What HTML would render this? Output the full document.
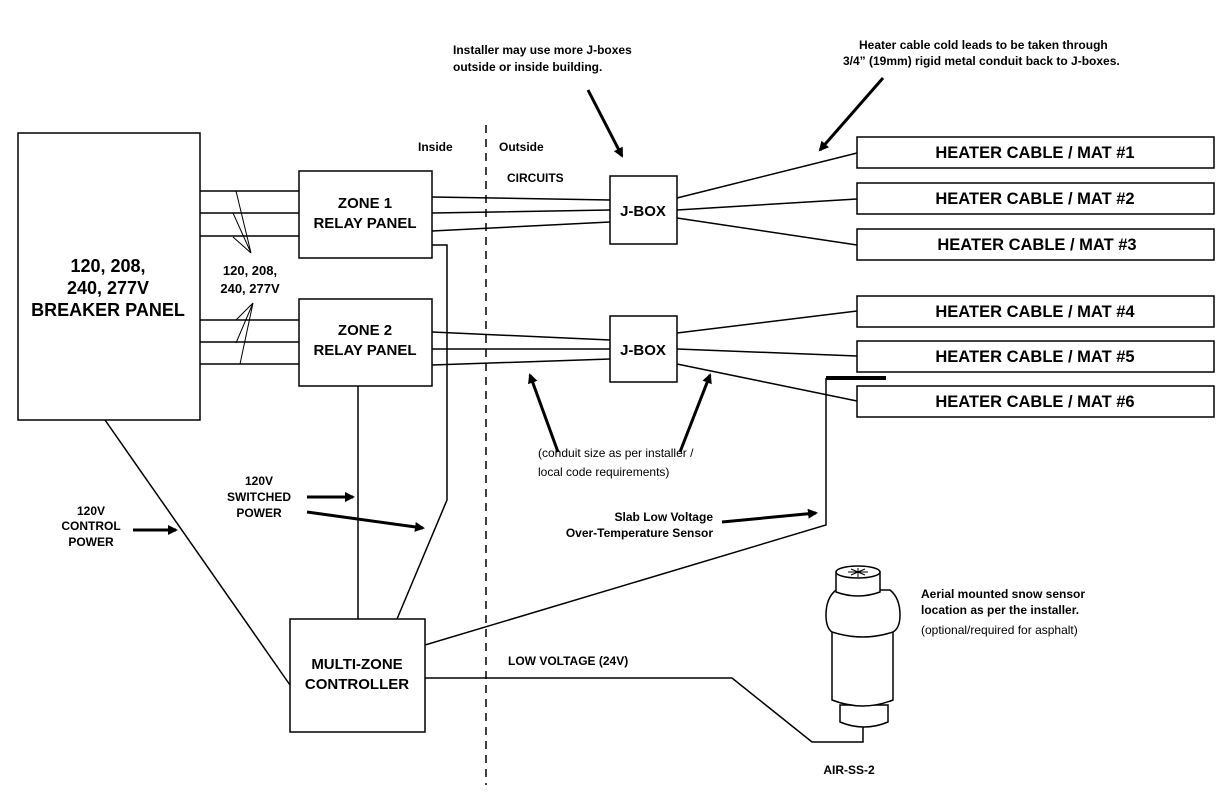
<!DOCTYPE html>
<html><head><meta charset="utf-8"><style>
body{margin:0;background:#fff}
svg text{font-family:"Liberation Sans",Arial,sans-serif;font-weight:bold;fill:#000}
svg text.n{font-weight:normal}
</style></head><body>
<svg width="1232" height="793" viewBox="0 0 1232 793" xmlns="http://www.w3.org/2000/svg">
<defs><marker id="ah" markerWidth="10" markerHeight="10" refX="8" refY="5" orient="auto" markerUnits="userSpaceOnUse"><path d="M0,0 L10,5 L0,10 z" fill="#000"/></marker></defs>
<g fill="none" stroke="#000" stroke-width="1.5">
<rect x="18" y="133" width="182" height="287"/>
<rect x="299" y="171" width="133" height="87"/>
<rect x="299" y="299" width="133" height="87"/>
<rect x="610" y="176" width="67" height="68"/>
<rect x="610" y="316" width="67" height="66"/>
<rect x="290" y="619" width="135" height="113"/>
<rect x="857" y="137" width="357" height="31"/>
<rect x="857" y="183" width="357" height="31"/>
<rect x="857" y="229" width="357" height="31"/>
<rect x="857" y="296" width="357" height="31"/>
<rect x="857" y="341" width="357" height="31"/>
<rect x="857" y="386" width="357" height="31"/>
<path d="M200,191H299M200,213H299M200,236H299M200,320H299M200,342H299M200,364H299"/>
<path d="M236,191L251,253M233,213L251,253M233,237L251,253M253,303L236,320M253,303L236,343M253,303L240,364" stroke-width="1"/>
<path d="M432,197L610,200M432,213L610,210M432,231L610,222"/>
<path d="M432,332L610,340M432,349L610,349M432,365L610,359"/>
<path d="M677,198L857,153M677,210L857,199M677,218L857,245"/>
<path d="M677,333L857,311M677,349L857,356M677,364L857,401"/>
<path d="M432,245H447V500L397,619"/>
<path d="M358,386V619"/>
<path d="M105,420L290,685"/>
<path d="M425,645L826,525V378"/>
<path d="M826,378H886" stroke-width="4"/>
<path d="M425,678H732L812,742H863V727"/>
<path d="M486,125V785" stroke-dasharray="8,6"/>
</g>
<g stroke="#000" stroke-width="3" fill="none" marker-end="url(#ah)">
<path d="M588,90L622,156"/>
<path d="M883,78L820,150"/>
<path d="M558,452L530,375"/>
<path d="M680,452L710,375"/>
<path d="M307,497H353"/>
<path d="M307,512L423,528"/>
<path d="M133,530H176"/>
<path d="M722,522L816,513"/>
</g>
<g fill="#fff" stroke="#000" stroke-width="1.5">
<path d="M840,705V722Q864,732 888,722V705Z"/>
<path d="M832,630V700Q863,712 893,700V630Z"/>
<path d="M836,590Q826,598 826,615Q826,628 832,632Q863,642 893,632Q900,628 900,615Q900,598 890,590Z"/>
<path d="M836,572V592Q858,600 880,592V572Z"/>
<ellipse cx="858" cy="572" rx="22" ry="6"/>
<path d="M848,572H868M858,568V577M851,569L865,575M865,569L851,575" stroke-width="1"/>
</g>
<g font-size="14" text-anchor="middle">
<text x="108" y="272" font-size="18">120, 208,</text>
<text x="108" y="294" font-size="18">240, 277V</text>
<text x="108" y="316" font-size="18">BREAKER PANEL</text>
<text x="365" y="208" font-size="15">ZONE 1</text>
<text x="365" y="228" font-size="15">RELAY PANEL</text>
<text x="365" y="335" font-size="15">ZONE 2</text>
<text x="365" y="355" font-size="15">RELAY PANEL</text>
<text x="643" y="216" font-size="15">J-BOX</text>
<text x="643" y="355" font-size="15">J-BOX</text>
<text x="357" y="669" font-size="15">MULTI-ZONE</text>
<text x="357" y="689" font-size="15">CONTROLLER</text>
<text x="1035" y="158" font-size="16.5">HEATER CABLE / MAT  #1</text>
<text x="1035" y="204" font-size="16.5">HEATER CABLE / MAT  #2</text>
<text x="1037" y="250" font-size="16.5">HEATER CABLE / MAT #3</text>
<text x="1035" y="317" font-size="16.5">HEATER CABLE / MAT  #4</text>
<text x="1035" y="362" font-size="16.5">HEATER CABLE / MAT  #5</text>
<text x="1035" y="407" font-size="16.5">HEATER CABLE / MAT  #6</text>
<text x="250" y="275" font-size="13">120, 208,</text>
<text x="250" y="293" font-size="13">240, 277V</text>
<text x="91" y="515" font-size="12">120V</text>
<text x="91" y="530" font-size="12">CONTROL</text>
<text x="91" y="546" font-size="12">POWER</text>
<text x="259" y="485" font-size="12">120V</text>
<text x="259" y="501" font-size="12">SWITCHED</text>
<text x="259" y="517" font-size="12">POWER</text>
<text x="849" y="774" font-size="12">AIR-SS-2</text>
</g>
<g font-size="12">
<text x="538" y="457" class="n">(conduit size as per installer /</text>
<text x="538" y="476" class="n">local code requirements)</text>
<text x="418" y="151">Inside</text>
<text x="499" y="151">Outside</text>
<text x="507" y="182">CIRCUITS</text>
<text x="453" y="54">Installer may use more J-boxes</text>
<text x="453" y="71">outside or inside building.</text>
<text x="859" y="49">Heater cable cold leads to be taken through</text>
<text x="843" y="65">3/4” (19mm) rigid metal conduit back to J-boxes.</text>
<text x="713" y="521" text-anchor="end">Slab Low Voltage</text>
<text x="713" y="537" text-anchor="end">Over-Temperature Sensor</text>
<text x="508" y="665">LOW VOLTAGE (24V)</text>
<text x="921" y="598">Aerial mounted snow sensor</text>
<text x="921" y="614">location as per the installer.</text>
<text x="921" y="634" class="n">(optional/required for asphalt)</text>
</g>
</svg>
</body></html>
